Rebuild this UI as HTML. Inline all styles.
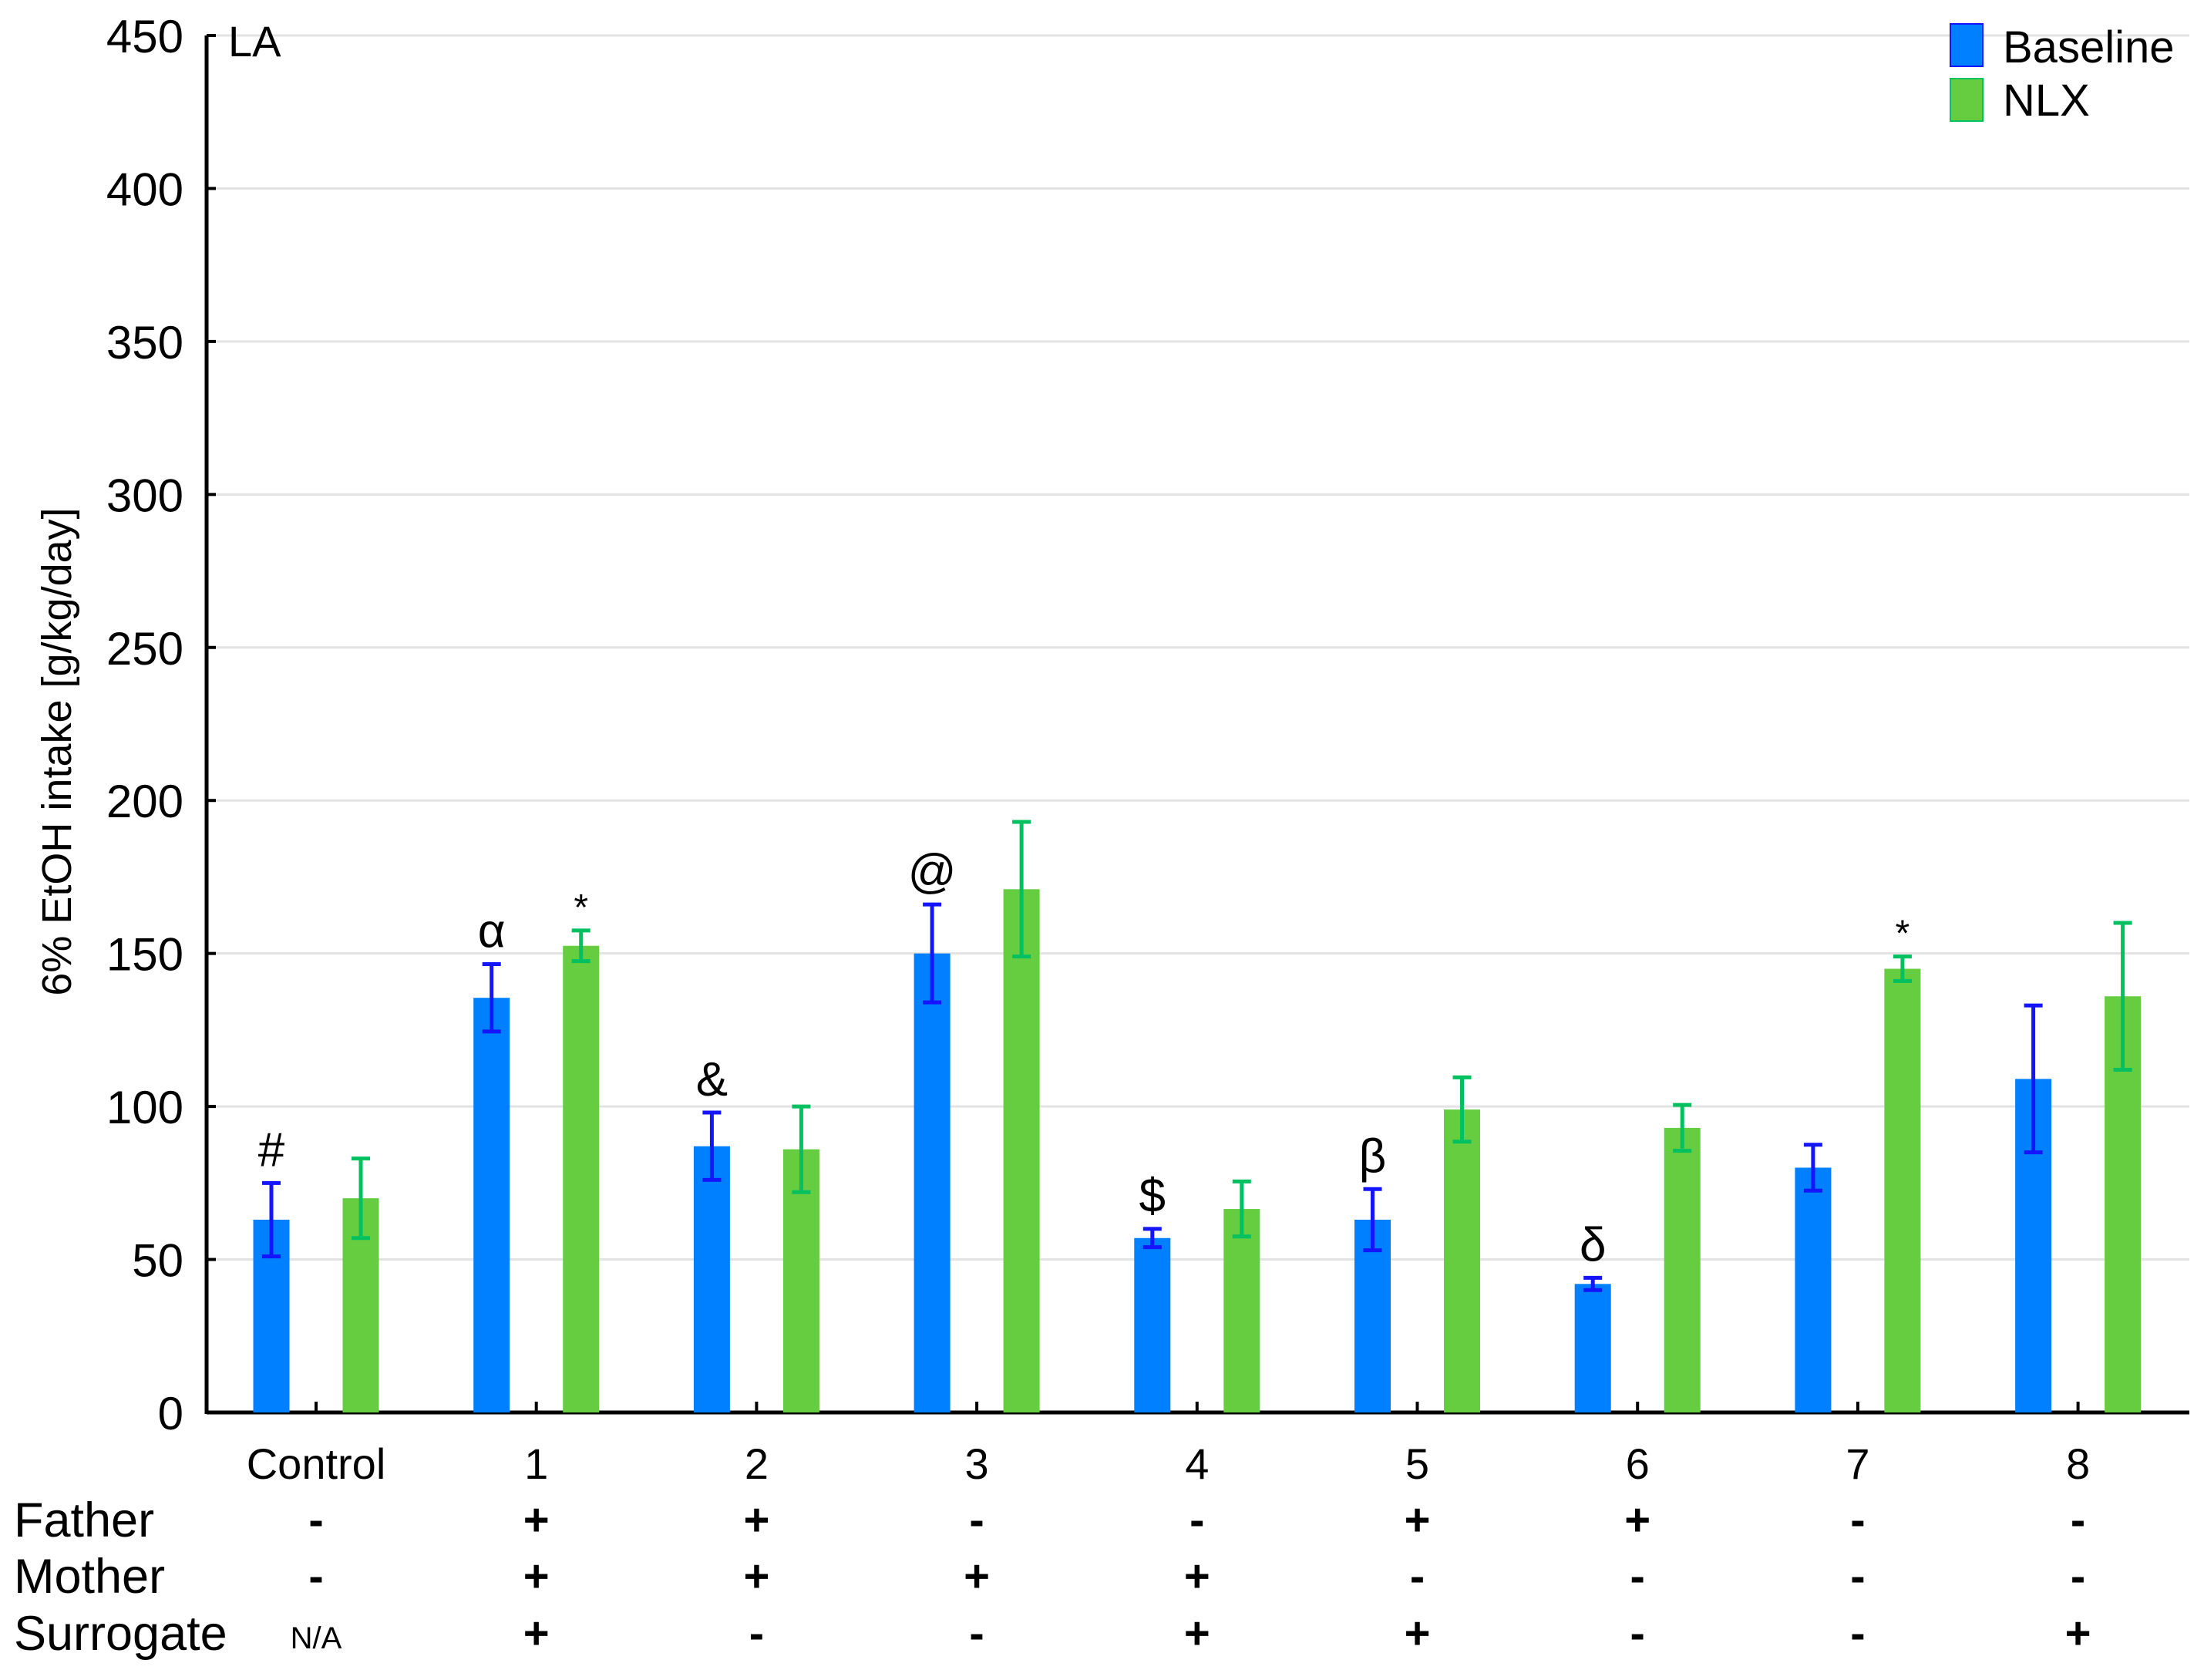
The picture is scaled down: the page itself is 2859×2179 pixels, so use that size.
<!DOCTYPE html>
<html><head><meta charset="utf-8"><style>
html,body{margin:0;padding:0;background:#fff;}
svg{display:block;font-family:"Liberation Sans",Arial,sans-serif;}
</style></head><body>
<svg id="chart" width="2859" height="2179" viewBox="0 0 2859 2179" xmlns="http://www.w3.org/2000/svg"></svg>
<script>
const categories = ["Control","1","2","3","4","5","6","7","8"];
const baselineValues = [63,135.5,87,150,57,63,42,80,109];
const baselineErr = [12,11,11,16,3,10,2,7.5,24];
const nlxValues = [70,152.5,86,171,66.5,99,93,145,136];
const nlxErr = [13,5,14,22,9,10.5,7.5,4,24];
const yTicks = [0,50,100,150,200,250,300,350,400,450];
const baselineMarks = ["#","α","&","@","$","β","δ","",""];
const nlxMarks = ["","*","","","","","","*",""];
const fatherRow = ["-","+","+","-","-","+","+","-","-"];
const motherRow = ["-","+","+","+","+","-","-","-","-"];
const surrogateRow = ["N/A","+","-","-","+","+","-","-","+"];

const svg = document.getElementById('chart');
const NS = 'http://www.w3.org/2000/svg';
const X0 = 268, XR = 2840, Y0 = 1832, YT = 46, YMAX = 450;
const firstTick = 410, step = 285.7, off = 58, bw = 47;
function yS(v){ return Y0 - (v / YMAX) * (Y0 - YT); }
function xS(i){ return firstTick + i * step; }
function mk(tag, attrs, parent){ const e = document.createElementNS(NS, tag); for (const k in attrs) e.setAttribute(k, attrs[k]); (parent||svg).appendChild(e); return e; }
function txt(s, x, y, size, anchor, parent){ const t = mk('text', {x:x, y:y, 'font-size':size, 'text-anchor':anchor||'middle', fill:'#000'}, parent); t.textContent = s; return t; }

yTicks.forEach(v => {
  const y = yS(v);
  if (v > 0) {
    const g = mk('line', {x1:X0, x2:XR, y1:y, y2:y, stroke:'#e3e3e3', 'stroke-width':3});
    
    
  }
  const tk = mk('line', {x1:X0, x2:X0+12, y1:y, y2:y, stroke:'#000', 'stroke-width':4});
  
  
  const t = txt(String(v), 238, y + 22, 60, 'end');
  
  
});
const ya = mk('line', {x1:X0, x2:X0, y1:YT, y2:Y0+2, stroke:'#000', 'stroke-width':5});


const xa = mk('line', {x1:X0, x2:XR, y1:Y0, y2:Y0, stroke:'#000', 'stroke-width':5});



const la = txt('LA', 296, 73, 56, 'start');



const yt = txt('6% EtOH intake [g/kg/day]', 0, 0, 54, 'middle');
yt.setAttribute('transform', 'translate(92,975) rotate(-90)');



function drawBar(i, v, e, cx, fill, ec, name, mark){
  const y = yS(v);
  const r = mk('rect', {x:cx - bw/2, y:y, width:bw, height:Y0 - y, fill:fill});
  
  
  const g = mk('g', {stroke:ec, 'stroke-width':5});
  
  
  const yh = yS(v + e), yl = yS(v - e);
  mk('line', {x1:cx, x2:cx, y1:yh, y2:yl}, g);
  mk('line', {x1:cx-12, x2:cx+12, y1:yh, y2:yh}, g);
  mk('line', {x1:cx-12, x2:cx+12, y1:yl, y2:yl}, g);
  if (mark) {
    const sz = mark === '*' ? 48 : 62;
    const t = txt(mark, cx, yh - (mark === '*' ? 14 : 22), sz, 'middle');
    
    
  }
}
categories.forEach((c, i) => {
  const cx = xS(i);
  const tk = mk('line', {x1:cx, x2:cx, y1:Y0, y2:Y0-14, stroke:'#000', 'stroke-width':4});
  
  
  drawBar(i, baselineValues[i], baselineErr[i], cx - off, '#0080ff', '#1414ff', 'baseline', baselineMarks[i]);
  drawBar(i, nlxValues[i], nlxErr[i], cx + off, '#66cc40', '#00c060', 'nlx', nlxMarks[i]);
  const cl = txt(c, cx, 1918, 56, 'middle');
  
  
  [[fatherRow,1991,'father'],[motherRow,2064,'mother'],[surrogateRow,2138,'surrogate']].forEach(([row,y,n]) => {
    const s = row[i];
    const t = txt(s, cx, y, s === 'N/A' ? 40 : 58, 'middle');
    if (s === '+' || s === '-') t.setAttribute('font-weight', 'bold');
    
    
  });
});
[['Father',1993],['Mother',2066],['Surrogate',2140]].forEach(([s,y]) => {
  const t = txt(s, 18, y, 63, 'start');
  
  
});
const lg = mk('g', {});


const lb = mk('rect', {x:2530, y:31, width:42, height:55, fill:'#0080ff', stroke:'#1414ff', 'stroke-width':2}, lg);


const lgn = mk('rect', {x:2530, y:102, width:42, height:55, fill:'#66cc40', stroke:'#00c060', 'stroke-width':2}, lg);


const l1 = txt('Baseline', 2598, 81, 58, 'start', lg);


const l2 = txt('NLX', 2598, 150, 58, 'start', lg);


</script>
</body></html>
